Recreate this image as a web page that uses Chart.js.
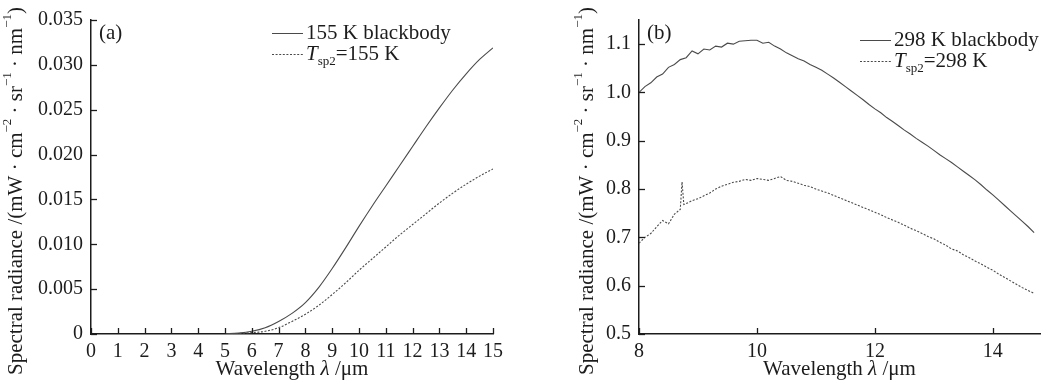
<!DOCTYPE html>
<html lang="en">
<head>
  <meta charset="UTF-8" />
  <title>Spectral radiance</title>
  <script src="https://cdn.jsdelivr.net/npm/chart.js"></script>
  <style>
    body { margin: 0; background: #fff; }
    #wrap { position: relative; width: 1052px; height: 385px; }
    canvas { position: absolute; top: 0; }
    #ca { left: 0; }
    #cb { left: 525px; }
  </style>
</head>
<body>
  <div id="wrap">
    <canvas id="ca" width="525" height="385"></canvas>
    <canvas id="cb" width="527" height="385"></canvas>
  </div>
  <script>
    // panel (a): 155 K
    const wlA = [5, 5.5, 6, 6.5, 7, 7.5, 8, 8.5, 9, 9.5, 10, 10.5, 11, 11.5, 12, 12.5, 13, 13.5, 14, 14.5, 15];
    const bbA = [0.00002, 0.0001, 0.0003, 0.0007, 0.0014, 0.0023, 0.0035, 0.0052, 0.0073, 0.0096, 0.0120,
                 0.0143, 0.0165, 0.0187, 0.0209, 0.0231, 0.0252, 0.0272, 0.0290, 0.0306, 0.0319];
    const tspA = [0.00001, 0.00005, 0.00015, 0.0003, 0.0007, 0.0014, 0.0022, 0.0032, 0.0044, 0.0057, 0.0071,
                  0.0084, 0.0097, 0.0110, 0.0122, 0.0134, 0.0146, 0.0157, 0.0167, 0.0176, 0.0184];

    // panel (b): 298 K
    const wlB = [8.0, 8.1, 8.2, 8.3, 8.4, 8.5, 8.6, 8.7, 8.8, 8.9, 9.0, 9.1, 9.2, 9.3, 9.4, 9.5, 9.6, 9.7, 9.8, 9.9,
                 10.0, 10.1, 10.2, 10.3, 10.4, 10.5, 10.6, 10.7, 10.8, 10.9, 11.0, 11.1, 11.2, 11.3, 11.4, 11.5,
                 11.6, 11.7, 11.8, 11.9, 12.0, 12.1, 12.2, 12.3, 12.4, 12.5, 12.6, 12.7, 12.8, 12.9, 13.0, 13.1,
                 13.2, 13.3, 13.4, 13.5, 13.6, 13.7, 13.8, 13.9, 14.0, 14.1, 14.2, 14.3, 14.4, 14.5, 14.6, 14.7];
    const bbB = [1.000, 1.012, 1.020, 1.032, 1.038, 1.052, 1.058, 1.068, 1.072, 1.086, 1.080, 1.090, 1.088, 1.096,
                 1.094, 1.102, 1.100, 1.106, 1.107, 1.108, 1.108, 1.102, 1.104, 1.096, 1.090, 1.082, 1.076, 1.070,
                 1.065, 1.058, 1.052, 1.046, 1.038, 1.030, 1.021, 1.012, 1.003, 0.994, 0.985, 0.975, 0.966, 0.958,
                 0.948, 0.940, 0.931, 0.922, 0.914, 0.905, 0.897, 0.889, 0.880, 0.871, 0.863, 0.855, 0.846, 0.837,
                 0.828, 0.819, 0.809, 0.798, 0.788, 0.777, 0.766, 0.755, 0.744, 0.733, 0.722, 0.710];
    // the measured curve has a spike near 8.73 um, so it keeps its own wavelengths
    const wlTsp = [8.0, 8.1, 8.2, 8.3, 8.4, 8.5, 8.6, 8.7, 8.73, 8.76, 8.8, 8.9, 9.0, 9.1, 9.2, 9.3, 9.4, 9.5, 9.6,
                   9.7, 9.8, 9.9, 10.0, 10.1, 10.2, 10.3, 10.4, 10.5, 10.6, 10.7, 10.8, 10.9, 11.0, 11.1, 11.2,
                   11.3, 11.4, 11.5, 11.6, 11.7, 11.8, 11.9, 12.0, 12.1, 12.2, 12.3, 12.4, 12.5, 12.6, 12.7, 12.8,
                   12.9, 13.0, 13.1, 13.2, 13.3, 13.4, 13.5, 13.6, 13.7, 13.8, 13.9, 14.0, 14.1, 14.2, 14.3, 14.4,
                   14.5, 14.6, 14.7];
    const tspB = [0.688, 0.700, 0.708, 0.722, 0.735, 0.728, 0.748, 0.758, 0.815, 0.768, 0.770, 0.776, 0.780,
                  0.786, 0.792, 0.800, 0.806, 0.810, 0.814, 0.816, 0.820, 0.818, 0.822, 0.820, 0.818, 0.822, 0.826,
                  0.818, 0.816, 0.812, 0.808, 0.805, 0.800, 0.796, 0.792, 0.787, 0.782, 0.777, 0.772, 0.767, 0.762,
                  0.757, 0.752, 0.747, 0.741, 0.736, 0.731, 0.725, 0.719, 0.714, 0.708, 0.702, 0.697, 0.690, 0.684,
                  0.676, 0.672, 0.664, 0.658, 0.651, 0.645, 0.638, 0.632, 0.624, 0.617, 0.610, 0.603, 0.596, 0.590,
                  0.584];

    const SERIF = '"Liberation Serif", "DejaVu Serif", serif';
    const INK = '#1c1c1c';
    const LINE = '#4a4a4a';

    function pts(xs, ys) { return xs.map((x, i) => ({ x, y: ys[i] })); }

    // draws a row of text pieces with their own fonts and vertical shifts
    function runs(ctx, x, y, parts, measureOnly) {
      let w = 0;
      parts.forEach(p => {
        ctx.font = p.font;
        if (!measureOnly) ctx.fillText(p.t, x + w, y + (p.dy || 0));
        w += ctx.measureText(p.t).width;
      });
      return w;
    }

    const F = s => s + 'px ' + SERIF;
    const FI = s => 'italic ' + s + 'px ' + SERIF;

    const decor = {
      id: 'decor',
      afterDraw(chart, args, o) {
        const { ctx } = chart;
        const x = chart.scales.x, y = chart.scales.y;
        ctx.save();
        // inward tick marks
        ctx.strokeStyle = INK;
        ctx.lineWidth = 1.3;
        x.ticks.forEach(t => {
          const px = Math.round(x.getPixelForValue(t.value)) + 0.5;
          ctx.beginPath(); ctx.moveTo(px, y.bottom); ctx.lineTo(px, y.bottom - 6); ctx.stroke();
        });
        y.ticks.forEach(t => {
          const py = Math.round(y.getPixelForValue(t.value)) + 0.5;
          ctx.beginPath(); ctx.moveTo(x.left, py); ctx.lineTo(x.left + 6, py); ctx.stroke();
        });

        ctx.fillStyle = INK;
        ctx.textBaseline = 'middle';

        // panel label
        ctx.font = F(21);
        ctx.fillText(o.panel, o.panelX, 33);

        // legend
        const lx = o.legX, l1 = o.legY, l2 = o.legY + 21;
        ctx.strokeStyle = LINE;
        ctx.lineWidth = 1;
        ctx.setLineDash([]);
        ctx.beginPath(); ctx.moveTo(lx, l1 + 0.5); ctx.lineTo(lx + 31, l1 + 0.5); ctx.stroke();
        ctx.setLineDash([2, 1.6]);
        ctx.beginPath(); ctx.moveTo(lx, l2 + 0.5); ctx.lineTo(lx + 31, l2 + 0.5); ctx.stroke();
        ctx.setLineDash([]);
        runs(ctx, lx + 34, l1, [{ t: o.temp + ' K blackbody', font: F(21) }]);
        runs(ctx, lx + 34, l2, [
          { t: 'T', font: FI(21) },
          { t: 'sp2', font: F(13), dy: 8 },
          { t: '=' + o.temp + ' K', font: F(21) }
        ]);

        // x title
        const xt = [
          { t: 'Wavelength ', font: F(21) },
          { t: 'λ', font: FI(21) },
          { t: ' /μm', font: F(21) }
        ];
        const xw = runs(ctx, 0, 0, xt, true);
        runs(ctx, (x.left + x.right) / 2 - xw / 2, 369, xt);

        // y title
        const yt = [
          { t: 'Spectral radiance /(mW · cm', font: F(21) },
          { t: '−2', font: F(13), dy: -8 },
          { t: ' · sr', font: F(21) },
          { t: '−1', font: F(13), dy: -8 },
          { t: ' · nm', font: F(21) },
          { t: '−1', font: F(13), dy: -8 },
          { t: ')', font: F(21) }
        ];
        ctx.translate(o.ytX, 191);
        ctx.rotate(-Math.PI / 2);
        const yw = runs(ctx, 0, 0, yt, true);
        runs(ctx, -yw / 2, 0, yt);
        ctx.restore();
      }
    };

    function axisX(min, max, step) {
      return {
        type: 'linear', min, max,
        border: { display: true, color: INK, width: 1.5 },
        grid: { display: false, drawTicks: false },
        ticks: { stepSize: step, includeBounds: false, padding: 6, color: INK, font: { family: SERIF, size: 20 }, maxRotation: 0 },
        afterFit: s => { s.height = 51; }
      };
    }

    function axisY(min, max, step, w, fmt) {
      return {
        type: 'linear', min, max,
        border: { display: true, color: INK, width: 1.5 },
        grid: { display: false, drawTicks: false },
        ticks: { stepSize: step, includeBounds: false, padding: 8, color: INK, font: { family: SERIF, size: 20 }, callback: fmt },
        afterFit: s => { s.width = w; }
      };
    }

    function lineSet(data, dashed, smooth) {
      return {
        data, borderColor: LINE, borderWidth: 1.1, borderDash: dashed ? [2, 1.6] : [],
        pointRadius: 0, fill: false,
        tension: smooth ? 0.4 : 0, cubicInterpolationMode: smooth ? 'monotone' : 'default'
      };
    }

    new Chart(document.getElementById('ca'), {
      type: 'line',
      data: { datasets: [lineSet(pts(wlA, bbA), false, true), lineSet(pts(wlA, tspA), true, true)] },
      options: {
        responsive: false, animation: false,
        layout: { padding: { top: 19, right: 32, bottom: 0, left: 0 } },
        plugins: {
          legend: { display: false }, tooltip: { enabled: false },
          decor: { panel: '(a)', panelX: 99, temp: '155', legX: 272, legY: 33, ytX: 16 }
        },
        scales: {
          x: axisX(0, 15, 1),
          y: axisY(0, 0.035, 0.005, 91, v => v === 0 ? '0' : v.toFixed(3))
        }
      },
      plugins: [decor]
    });

    new Chart(document.getElementById('cb'), {
      type: 'line',
      data: { datasets: [lineSet(pts(wlB, bbB), false, false), lineSet(pts(wlTsp, tspB), true, false)] },
      options: {
        responsive: false, animation: false,
        layout: { padding: { top: 16.5, right: 12, bottom: 0, left: 0 } },
        plugins: {
          legend: { display: false }, tooltip: { enabled: false },
          decor: { panel: '(b)', panelX: 122, temp: '298', legX: 335, legY: 40, ytX: 62 }
        },
        scales: {
          x: axisX(8, 14.8, 2),
          y: axisY(0.5, 1.15, 0.1, 114, v => v.toFixed(1))
        }
      },
      plugins: [decor]
    });
  </script>
</body>
</html>
